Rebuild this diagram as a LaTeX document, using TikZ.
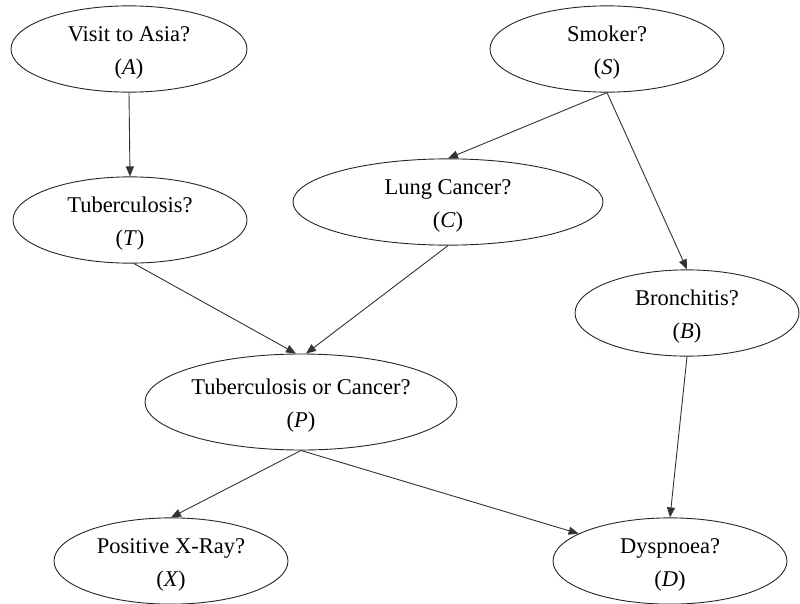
\documentclass[tikz,border=0pt]{standalone}
\usepackage{fontspec}
\setmainfont{Liberation Serif}
\usetikzlibrary{shapes.geometric,arrows.meta}
\begin{document}
\begin{tikzpicture}[x=1pt,y=-1pt,
  var/.style={draw=black!85, ellipse, inner sep=0pt, align=center, line width=0.9pt,
              text height=56pt, text depth=5pt,
              font=\fontsize{22.5}{33}\selectfont},
  link/.style={draw=black!80, line width=0.9pt, -{Triangle[length=10pt,width=8pt]}}]
\useasboundingbox (0,0) rectangle (800,603);
% variables of the network
\node[var, minimum width=236pt, minimum height=84pt] (A) at (129,49) {Visit to Asia?\\(\textit{A})};
\node[var, minimum width=234pt, minimum height=84pt] (S) at (607,49) {Smoker?\\(\textit{S})};
\node[var, minimum width=234pt, minimum height=80pt] (T) at (130,220) {Tuberculosis?\\(\textit{T})};
\node[var, minimum width=310pt, minimum height=84pt] (C) at (448,202) {Lung Cancer?\\(\textit{C})};
\node[var, minimum width=224pt, minimum height=82pt] (B) at (687,313) {Bronchitis?\\(\textit{B})};
\node[var, minimum width=312pt, minimum height=96pt] (P) at (301,402) {Tuberculosis or Cancer?\\(\textit{P})};
\node[var, minimum width=234pt, minimum height=80pt] (X) at (171,561) {Positive X-Ray?\\(\textit{X})};
\node[var, minimum width=234pt, minimum height=80pt] (D) at (670,561) {Dyspnoea?\\(\textit{D})};
% dependencies
\draw[link] (A.south) -- (T.north);
\draw[link] (S.south) -- (C.north);
\draw[link] (S.south) -- (B.north);
\draw[link] ([xshift=4pt]T.south) -- ([xshift=-5pt]P.north);
\draw[link] (C.south) -- ([xshift=5pt]P.north);
\draw[link] (P.south) -- (X.north);
\draw[link] (P.south) -- (D);
\draw[link] (B.south) -- (D.north);
\end{tikzpicture}
\end{document}
